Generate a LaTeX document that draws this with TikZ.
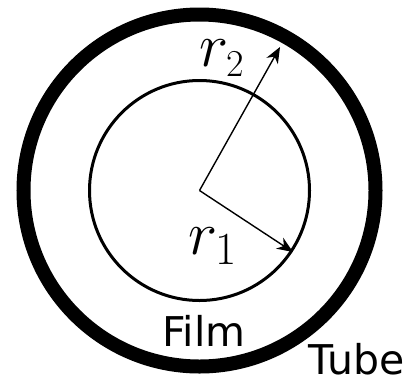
\RequirePackage{fix-cm}
\documentclass[tikz,border=0pt]{standalone}
\usepackage{fontspec}
\setsansfont{DejaVu Sans}
\usetikzlibrary{arrows.meta}

\begin{document}
\begin{tikzpicture}[
    x=1pt, y=-1pt,
    >={Stealth[length=16pt, width=13pt, inset=5pt]},
    ring/.style={draw, line width=#1},
    radius arrow/.style={->, line width=1.4pt},
    rlabel/.style={inner sep=0pt, font=\fontsize{62}{62}\selectfont},
    tag/.style={inner sep=0pt, font=\sffamily\fontsize{41}{41}\selectfont}
]
\useasboundingbox (0,0) rectangle (414,381);

% =====================
% CERCHI
% =====================
\coordinate (O) at (199.5,190.5);
\draw[ring=14pt] (O) circle[radius=176pt];
\draw[ring=3pt] (O) circle[radius=110pt];

% =====================
% RAGGI
% =====================
\coordinate (R1) at (293,252);
\coordinate (R2) at (280,47);

% O -> R1
\draw[radius arrow] (O) -- (R1);

% O -> R2
\draw[radius arrow] (O) -- (R2);

\node[rlabel] (r2lbl) at (222,58) {$r_{\mbox{\fontsize{38}{38}\selectfont 2}}$};
\node[rlabel] (r1lbl) at (213,246) {$r_{\mbox{\fontsize{46}{46}\selectfont 1}}$};

% Etichette
\node[tag] (film) at (204,331) {Film};
\node[tag] (tube) at (357,359) {Tube};

\end{tikzpicture}
\end{document}
